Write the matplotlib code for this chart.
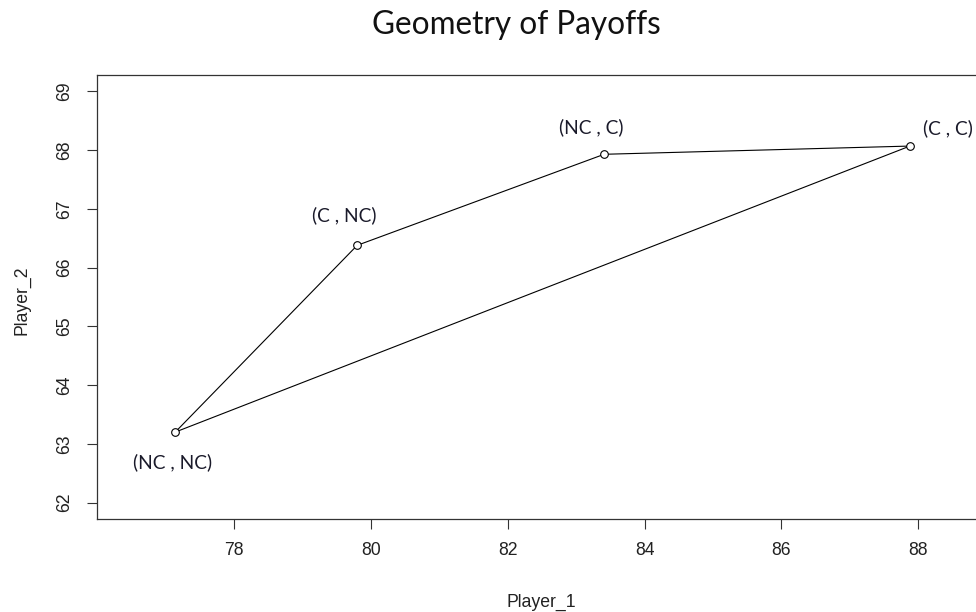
import matplotlib
matplotlib.use("Agg")
import matplotlib.pyplot as plt

# Payoff pairs (Player_1, Player_2) for each strategy profile
profiles = ["(NC , NC)", "(C , NC)", "(NC , C)", "(C , C)"]
player_1 = [77.14, 79.80, 83.41, 87.88]
player_2 = [63.20, 66.38, 67.93, 68.07]

x_ticks = [78, 80, 82, 84, 86, 88]
y_ticks = [62, 63, 64, 65, 66, 67, 68, 69]

# Label offsets in pixels relative to each point
label_offsets = [(-3, -30), (-13, 30), (-13, 27), (38, 18)]

W, H, DPI = 976, 612, 100
fig = plt.figure(figsize=(W / DPI, H / DPI), dpi=DPI)

# Plot region in pixels
left_px, right_px, top_px, bottom_px = 96.8, 990.0, 75.0, 519.0
ax = fig.add_axes([left_px / W, (H - bottom_px) / H,
                   (right_px - left_px) / W, (bottom_px - top_px) / H])

px_per_x = 68.4
x0 = 78 - (234.1 - left_px) / px_per_x
x1 = x0 + (right_px - left_px) / px_per_x
ax.set_xlim(x0, x1)
ax.set_ylim(61.72, 69.28)

# Closed polygon through the four payoff points
xs = player_1 + [player_1[0]]
ys = player_2 + [player_2[0]]
ax.plot(xs, ys, color="black", lw=0.8, zorder=2)
ax.plot(player_1, player_2, linestyle="none", marker="o", markersize=5.5,
        markerfacecolor="white", markeredgecolor="black", markeredgewidth=0.8,
        zorder=3)

label_font = dict(family=["Lato", "DejaVu Sans"], size=13.8, color="#1a1a2a")
for name, px, py, off in zip(profiles, player_1, player_2, label_offsets):
    ax.annotate(name, (px, py), xytext=off, textcoords="offset pixels",
                ha="center", va="center", **label_font)

ax.set_xticks(x_ticks)
ax.set_yticks(y_ticks)
tick_font = dict(family=["Liberation Sans", "DejaVu Sans"], size=12.7)
ax.set_xticklabels([str(t) for t in x_ticks], **tick_font, color="#222222")
ax.set_yticklabels([str(t) for t in y_ticks], **tick_font, color="#222222",
                   rotation=90, va="center")
ax.tick_params(axis="both", direction="out", length=7.2, width=0.8,
               color="#333333", pad=9.6)
for sp in ax.spines.values():
    sp.set_color("#333333")
    sp.set_linewidth(0.9)

fig.text(516 / W, (H - 34.3) / H, "Geometry of Payoffs", ha="center",
         va="baseline", family=["Lato", "DejaVu Sans"], size=22.7,
         color="#111111")
fig.text(541.7 / W, (H - 606.7) / H, "Player_1", ha="center", va="baseline",
         **tick_font, color="#222222")
fig.text(30.5 / W, (H - 300) / H, "Player_2", ha="right", va="center",
         rotation=90, **tick_font, color="#222222")

fig.savefig("out.png", dpi=DPI)
